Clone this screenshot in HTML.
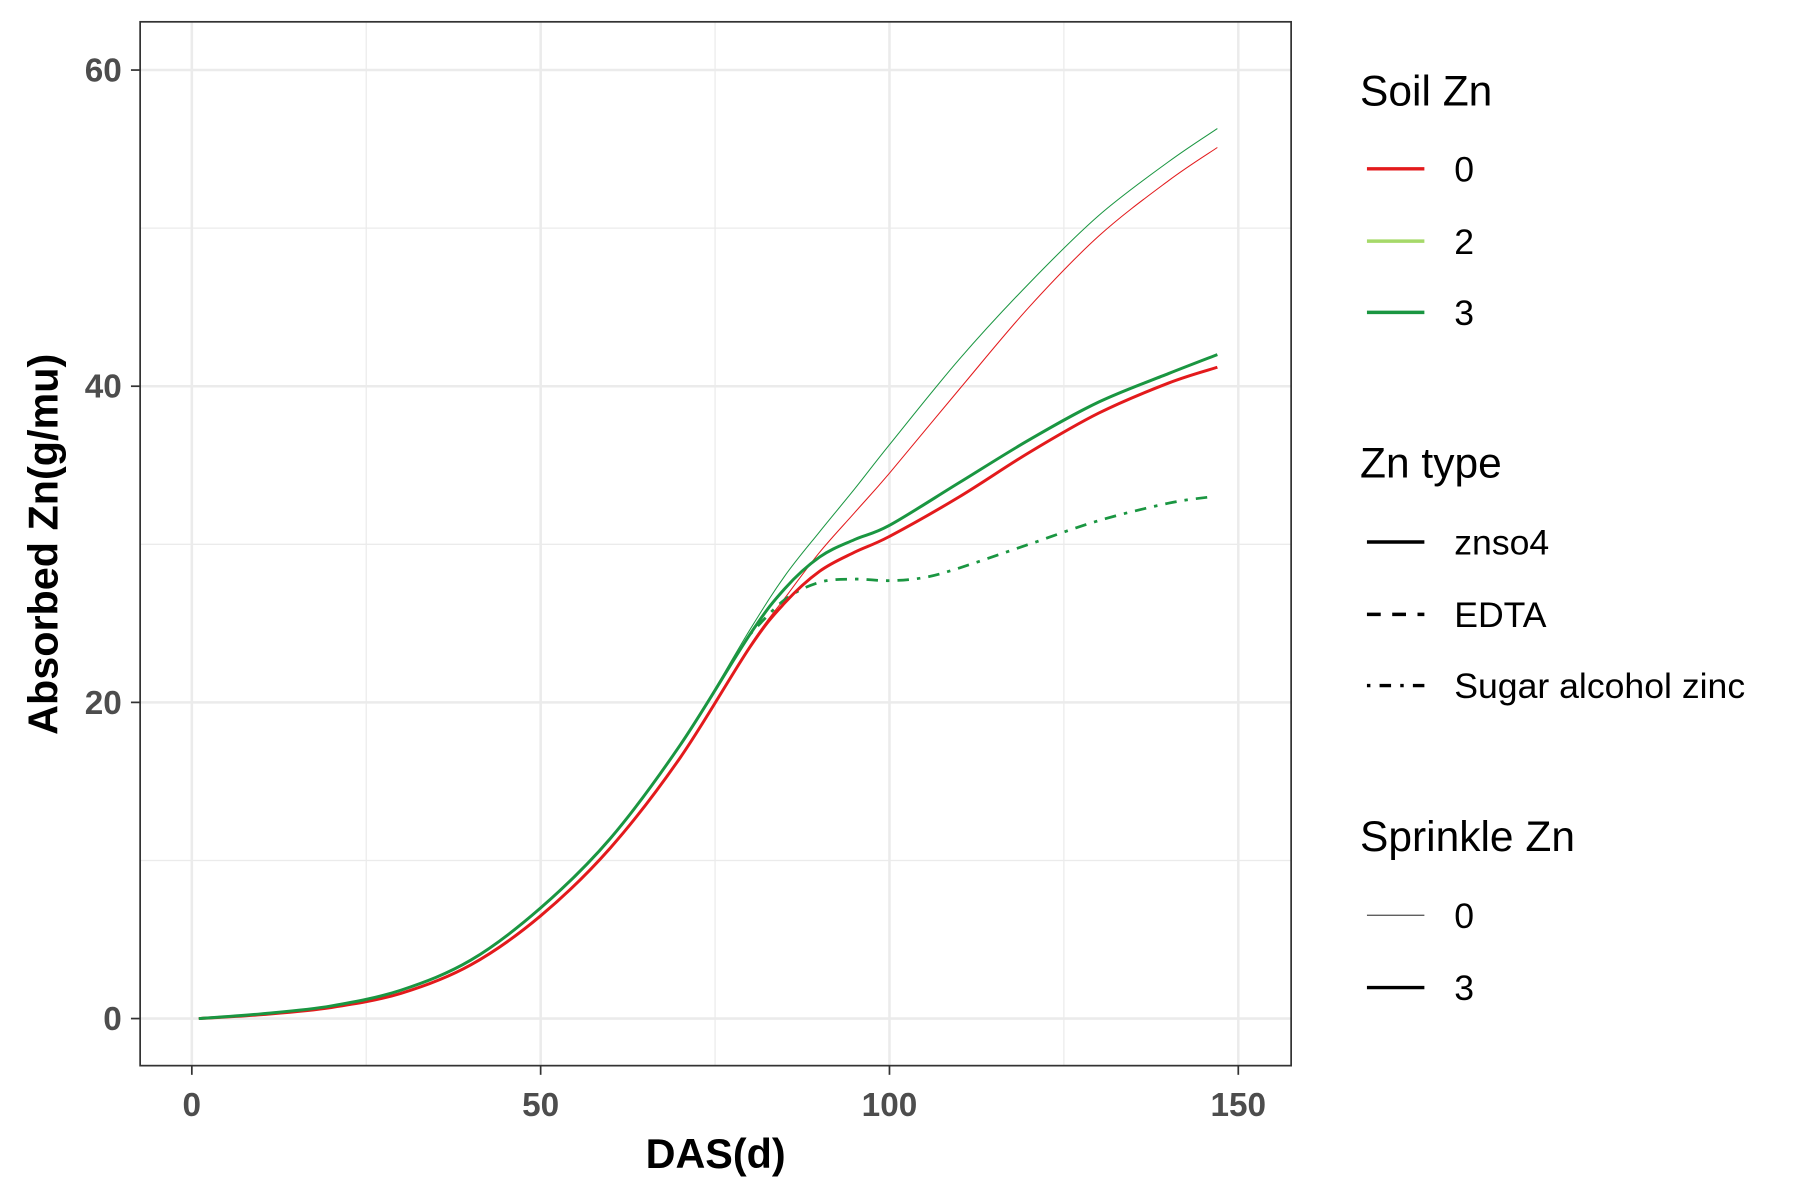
<!DOCTYPE html>
<html><head><meta charset="utf-8"><style>
html,body{margin:0;padding:0;background:#fff;}
svg{display:block;font-family:"Liberation Sans",Arial,sans-serif;}
</style></head><body>
<svg id="chart" width="1800" height="1200" viewBox="0 0 1567 1045" preserveAspectRatio="none" xmlns="http://www.w3.org/2000/svg">
<rect x="0" y="0" width="1567" height="1045" fill="#fff"/>
<g id="grid"></g>
<g id="series"></g>
<rect x="122" y="19" width="1002" height="909" fill="none" stroke="#333" stroke-width="1.5"/>
<g id="ticks"></g>
<text x="623" y="1017" text-anchor="middle" font-size="36" font-weight="bold">DAS(d)</text>
<text transform="translate(50,474) rotate(-90)" text-anchor="middle" font-size="36" font-weight="bold">Absorbed Zn(g/mu)</text>
<g font-size="31">
<text x="1184" y="92" font-size="37">Soil Zn</text>
<line x1="1190" y1="147" x2="1240" y2="147" stroke="#e31a1c" stroke-width="3"/>
<text x="1266" y="158">0</text>
<line x1="1190" y1="210" x2="1240" y2="210" stroke="#a6d96a" stroke-width="3"/>
<text x="1266" y="221">2</text>
<line x1="1190" y1="272" x2="1240" y2="272" stroke="#1a9641" stroke-width="3"/>
<text x="1266" y="283">3</text>
<text x="1184" y="416" font-size="37">Zn type</text>
<line x1="1190" y1="472" x2="1240" y2="472" stroke="#000" stroke-width="3"/>
<text x="1266" y="483">znso4</text>
<line x1="1190" y1="535" x2="1240" y2="535" stroke="#000" stroke-width="3" stroke-dasharray="12,10"/>
<text x="1266" y="546">EDTA</text>
<line x1="1190" y1="597" x2="1240" y2="597" stroke="#000" stroke-width="3" stroke-dasharray="3,8,10,8"/>
<text x="1266" y="608">Sugar alcohol zinc</text>
<text x="1184" y="741" font-size="37">Sprinkle Zn</text>
<line x1="1190" y1="797" x2="1240" y2="797" stroke="#000" stroke-width="0.8"/>
<text x="1266" y="808">0</text>
<line x1="1190" y1="860" x2="1240" y2="860" stroke="#000" stroke-width="3"/>
<text x="1266" y="871">3</text>
</g>
</svg>
<script>
const xTicks=[0,50,100,150];
const yTicks=[0,20,40,60];
const days=[1,10,20,30,40,50,60,70,80,85,90,95,100,110,120,130,140,147];
const redThick=[0,0.25,0.7,1.6,3.4,6.5,10.8,16.5,23.5,26.3,28.3,29.5,30.5,33.0,35.8,38.3,40.2,41.2];
const greenThick=[0,0.3,0.8,1.8,3.7,7.0,11.4,17.3,24.3,27.2,29.2,30.3,31.2,33.9,36.6,39.0,40.8,42.0];
const redThin=[0,0.25,0.7,1.6,3.4,6.5,10.8,16.5,23.6,26.6,29.5,32.0,34.5,39.8,45.0,49.5,53.0,55.1];
const greenThin=[0,0.3,0.8,1.8,3.7,7.0,11.4,17.3,24.6,28.0,30.8,33.5,36.3,41.7,46.5,50.8,54.2,56.3];
const sugarDays=[80,85,90,95,100,105,110,120,130,140,146];
const sugarVals=[24.3,26.5,27.6,27.8,27.7,27.9,28.5,30.0,31.5,32.6,33.0];
const NS="http://www.w3.org/2000/svg";
const sx=v=>167+v*(1078-167)/150;
const sy=v=>887-v*(887-61)/60;
function mk(tag,attrs,parent){const e=document.createElementNS(NS,tag);for(const k in attrs)e.setAttribute(k,attrs[k]);parent.appendChild(e);return e;}
const grid=document.getElementById('grid'),ticks=document.getElementById('ticks'),series=document.getElementById('series');
for(let i=0;i<xTicks.length;i++){
  const v=xTicks[i];
  const g=mk('line',{x1:sx(v),x2:sx(v),y1:19,y2:928,stroke:'#ebebeb','stroke-width':2.2},grid);
  
  if(i<xTicks.length-1){const m=(v+xTicks[i+1])/2;const gm=mk('line',{x1:sx(m),x2:sx(m),y1:19,y2:928,stroke:'#ebebeb','stroke-width':1.1},grid);
  }
  const t=mk('line',{x1:sx(v),x2:sx(v),y1:928,y2:936,stroke:'#333','stroke-width':1.5},ticks);
  
  const l=mk('text',{x:sx(v),y:972,'text-anchor':'middle','font-size':29,'font-weight':'bold',fill:'#4d4d4d'},ticks);
  l.textContent=v;
}
for(let i=0;i<yTicks.length;i++){
  const v=yTicks[i];
  const g=mk('line',{x1:122,x2:1124,y1:sy(v),y2:sy(v),stroke:'#ebebeb','stroke-width':2.2},grid);
  
  if(i<yTicks.length-1){const m=(v+yTicks[i+1])/2;const gm=mk('line',{x1:122,x2:1124,y1:sy(m),y2:sy(m),stroke:'#ebebeb','stroke-width':1.1},grid);
  }
  const t=mk('line',{x1:114,x2:122,y1:sy(v),y2:sy(v),stroke:'#333','stroke-width':1.5},ticks);
  
  const l=mk('text',{x:106,y:sy(v)+10,'text-anchor':'end','font-size':29,'font-weight':'bold',fill:'#4d4d4d'},ticks);
  l.textContent=v;
}
function smooth(xs,ys){
  const p=xs.map((x,i)=>[sx(x),sy(ys[i])]);
  let d='M'+p[0][0]+','+p[0][1];
  for(let i=0;i<p.length-1;i++){
    const p0=p[Math.max(0,i-1)],p1=p[i],p2=p[i+1],p3=p[Math.min(p.length-1,i+2)];
    const c1=[p1[0]+(p2[0]-p0[0])/6,p1[1]+(p2[1]-p0[1])/6];
    const c2=[p2[0]-(p3[0]-p1[0])/6,p2[1]-(p3[1]-p1[1])/6];
    d+=' C'+c1[0]+','+c1[1]+' '+c2[0]+','+c2[1]+' '+p2[0]+','+p2[1];
  }
  return d;
}
function line(name,xs,ys,color,w,dash){
  const a={d:smooth(xs,ys),fill:'none',stroke:color,'stroke-width':w};
  if(dash)a['stroke-dasharray']=dash;
  const e=mk('path',a,series);
  
  
}
line('line-soil0-sprinkle0',days,redThin,'#e31a1c',0.9);
line('line-soil3-sprinkle0',days,greenThin,'#1a9641',0.9);
line('line-soil3-sugar-alcohol',sugarDays,sugarVals,'#1a9641',2.4,'3,7,10,7');
line('line-soil0-znso4',days,redThick,'#e31a1c',2.6);
line('line-soil3-znso4',days,greenThick,'#1a9641',2.6);
</script>
</body></html>
